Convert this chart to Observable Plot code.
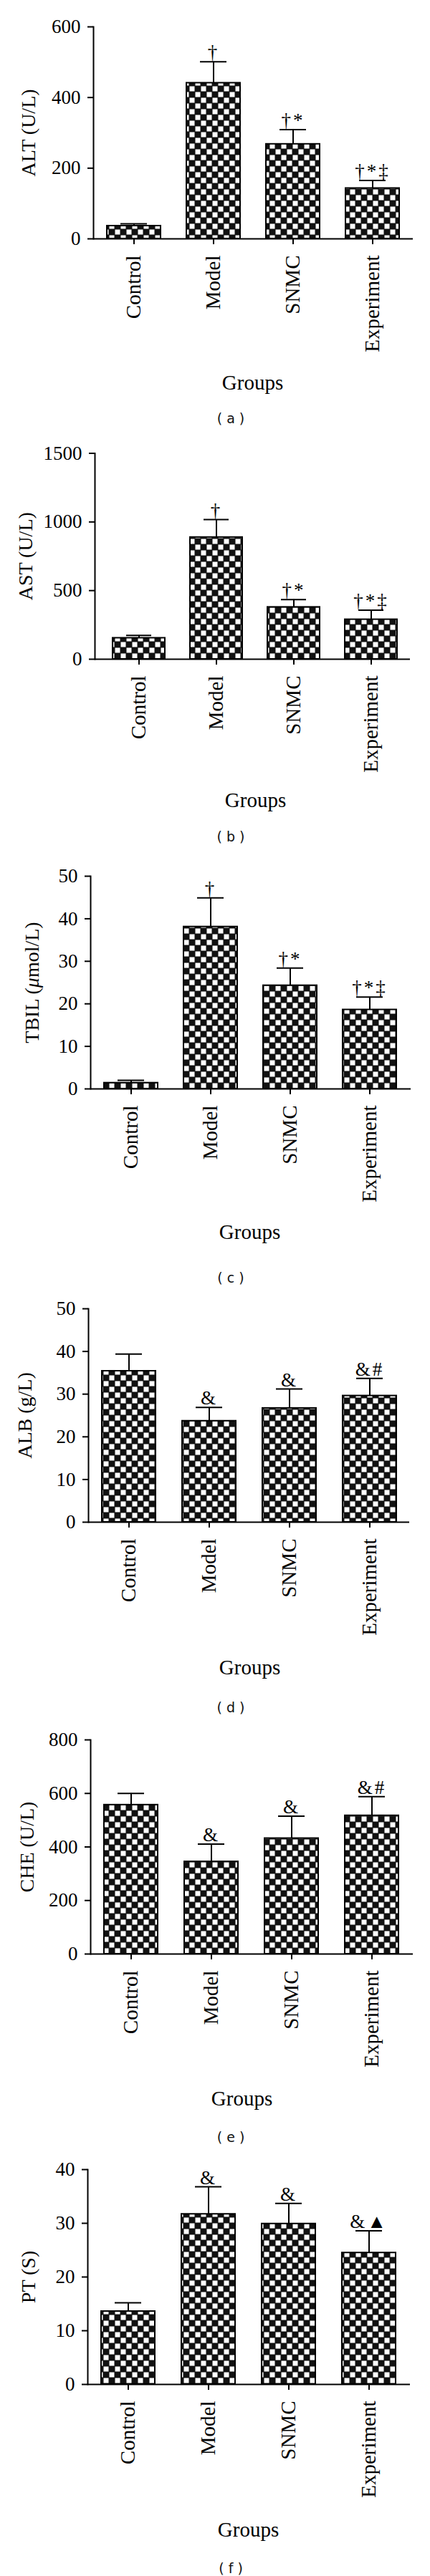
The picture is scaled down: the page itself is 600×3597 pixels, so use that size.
<!DOCTYPE html>
<html>
<head>
<meta charset="utf-8">
<script src="https://cdn.jsdelivr.net/npm/d3@7"></script>
<script src="https://cdn.jsdelivr.net/npm/@observablehq/plot@0.6"></script>
<style>
  html, body { margin: 0; padding: 0; background: white; }
  #root { width: 600px; }
  .panel svg { display: block; }
  .cap { width: 600px; box-sizing: border-box; padding-left: 44px; text-align: center;
         font-family: "DejaVu Sans", "Noto Sans", sans-serif; font-size: 19px; color: #111; }
  .annot text { letter-spacing: 3px; }
</style>
</head>
<body>
<svg width="0" height="0" style="position:absolute">
  <defs>
    <pattern id="checker" patternUnits="userSpaceOnUse" width="16" height="16">
      <rect width="16" height="16" fill="#111"/>
      <rect x="0.5" y="0.5" width="7" height="7" fill="#fff"/>
      <rect x="8.5" y="8.5" width="7" height="7" fill="#fff"/>
    </pattern>
  </defs>
</svg>
<div id="root"></div>
<script>
// ---------- data ----------
const groups = ["Control", "Model", "SNMC", "Experiment"];

const altMean = [36.5, 441, 268, 143];
const altSD   = [6, 60, 41, 22];
const altTicks = [0, 200, 400, 600];

const astMean = [154, 888, 379, 289];
const astSD   = [19, 129, 56, 68];
const astTicks = [0, 500, 1000, 1500];

const tbilMean = [1.4, 38.1, 24.3, 18.6];
const tbilSD   = [0.6, 6.8, 4.1, 3.0];
const tbilTicks = [0, 10, 20, 30, 40, 50];

const albMean = [35.4, 23.7, 26.7, 29.6];
const albSD   = [4.0, 3.2, 4.5, 4.1];
const albTicks = [0, 10, 20, 30, 40, 50];

const cheMean = [557, 345, 432, 517];
const cheSD   = [43, 66, 83, 71];
const cheTicks = [0, 200, 400, 600, 800];

const ptMean = [13.6, 31.7, 29.9, 24.5];
const ptSD   = [1.6, 5.1, 3.8, 4.1];
const ptTicks = [0, 10, 20, 30, 40];

const sigEnzyme = ["", "†", "†*", "†*‡"];
const sigSynth  = ["", "&", "&", "&#"];
const sigPT     = ["", "&", "&", "&▲"];

const yLabels = ["ALT (U/L)", "AST (U/L)", "TBIL (μmol/L)", "ALB (g/L)", "CHE (U/L)", "PT (S)"];
const captions = ["( a )", "( b )", "( c )", "( d )", "( e )", "( f )"];
const xTitle = "Groups";

const series = [
  {mean: altMean, sd: altSD, ticks: altTicks, sig: sigEnzyme},
  {mean: astMean, sd: astSD, ticks: astTicks, sig: sigEnzyme},
  {mean: tbilMean, sd: tbilSD, ticks: tbilTicks, sig: sigEnzyme},
  {mean: albMean, sd: albSD, ticks: albTicks, sig: sigSynth},
  {mean: cheMean, sd: cheSD, ticks: cheTicks, sig: sigSynth},
  {mean: ptMean, sd: ptSD, ticks: ptTicks, sig: sigPT}
];

// ---------- layout (pixels) ----------
const layout = [
  {svgH: 568, capH: 32, mt: 37,   mb: 235, ml: 130, mr: 24, c0: 186, step: 111,   bw: 75, ylx: -90, gx: 352, gdy: 201},
  {svgH: 552, capH: 32, mt: 32.5, mb: 232, ml: 132, mr: 28, c0: 193, step: 108.3, bw: 73, ylx: -96, gx: 356, gdy: 197},
  {svgH: 584, capH: 32, mt: 39,   mb: 248, ml: 126, mr: 27, c0: 181, step: 111.7, bw: 75, ylx: -81, gx: 348, gdy: 200},
  {svgH: 568, capH: 32, mt: 27,   mb: 243, ml: 123, mr: 29, c0: 179, step: 112,   bw: 75, ylx: -88, gx: 348, gdy: 203},
  {svgH: 568, capH: 32, mt: 29,   mb: 240, ml: 126, mr: 24, c0: 182, step: 112.3, bw: 75, ylx: -88, gx: 337, gdy: 202},
  {svgH: 575, capH: 22, mt: 29,   mb: 246, ml: 122, mr: 28, c0: 177, step: 112.7, bw: 75, ylx: -82, gx: 346, gdy: 203}
];

const root = document.getElementById("root");
const serif = "'Liberation Serif', 'Times New Roman', serif";

series.forEach((s, i) => {
  const L = layout[i];
  const data = groups.map((g, k) => ({group: g, mean: s.mean[k], upper: s.mean[k] + s.sd[k], sig: s.sig[k]}));
  const pi = 1 - L.bw / L.step;
  const top = s.ticks[s.ticks.length - 1];

  const plot = Plot.plot({
    width: 600,
    height: L.svgH,
    marginTop: L.mt,
    marginBottom: L.mb,
    marginLeft: L.ml,
    marginRight: L.mr,
    style: {fontFamily: serif, fontSize: "27px", color: "black", background: "white", overflow: "visible"},
    x: {domain: groups, range: [L.c0 - L.step / 2, L.c0 + 3.5 * L.step], paddingInner: pi, paddingOuter: pi / 2, align: 0.5},
    y: {domain: [0, top], nice: false},
    marks: [
      Plot.barY(data, {x: "group", y: "mean", fill: "url(#checker)", stroke: "black", strokeWidth: 2}),
      Plot.ruleX(data, {x: "group", y1: "mean", y2: "upper", stroke: "black", strokeWidth: 2}),
      Plot.tickY(data, {x: "group", y: "upper", stroke: "black", strokeWidth: 2, insetLeft: 19, insetRight: 19}),
      Plot.text(data, {x: "group", y: "upper", text: "sig", dy: -4, lineAnchor: "bottom", fontSize: 27, fill: "black", className: "annot"}),
      Plot.frame({anchor: "left", stroke: "black", strokeWidth: 2}),
      Plot.ruleY([0], {stroke: "black", strokeWidth: 2}),
      Plot.axisY({ticks: s.ticks, tickSize: 8, tickPadding: 10, strokeWidth: 2, fontSize: 27, label: null, tickFormat: d => String(d)}),
      Plot.axisX({tickSize: 8, tickPadding: 15, tickRotate: -90, strokeWidth: 2, fontSize: 29, label: null}),
      Plot.text([yLabels[i]], {text: d => d, frameAnchor: "left", rotate: -90, dx: L.ylx, fontSize: 28, textAnchor: "middle", lineAnchor: "middle", fill: "black"}),
      Plot.text([xTitle], {text: d => d, frameAnchor: "bottom-left", dx: L.gx - L.ml, dy: L.gdy, fontSize: 29, textAnchor: "middle", lineAnchor: "middle", fill: "black"})
    ]
  });

  // italic mu in the TBIL label
  plot.querySelectorAll("text").forEach(t => {
    if (t.textContent === "TBIL (μmol/L)") {
      t.textContent = "";
      const parts = [["TBIL (", null], ["μ", "italic"], ["mol/L)", null]];
      parts.forEach(([str, st]) => {
        const ts = document.createElementNS("http://www.w3.org/2000/svg", "tspan");
        ts.textContent = str;
        if (st) ts.setAttribute("font-style", st);
        t.appendChild(ts);
      });
    }
  });

  const panel = document.createElement("div");
  panel.className = "panel";
  panel.appendChild(plot);
  const cap = document.createElement("div");
  cap.className = "cap";
  cap.style.height = L.capH + "px";
  cap.style.lineHeight = L.capH + "px";
  cap.textContent = captions[i];
  panel.appendChild(cap);
  root.appendChild(panel);
});
</script>
</body>
</html>
